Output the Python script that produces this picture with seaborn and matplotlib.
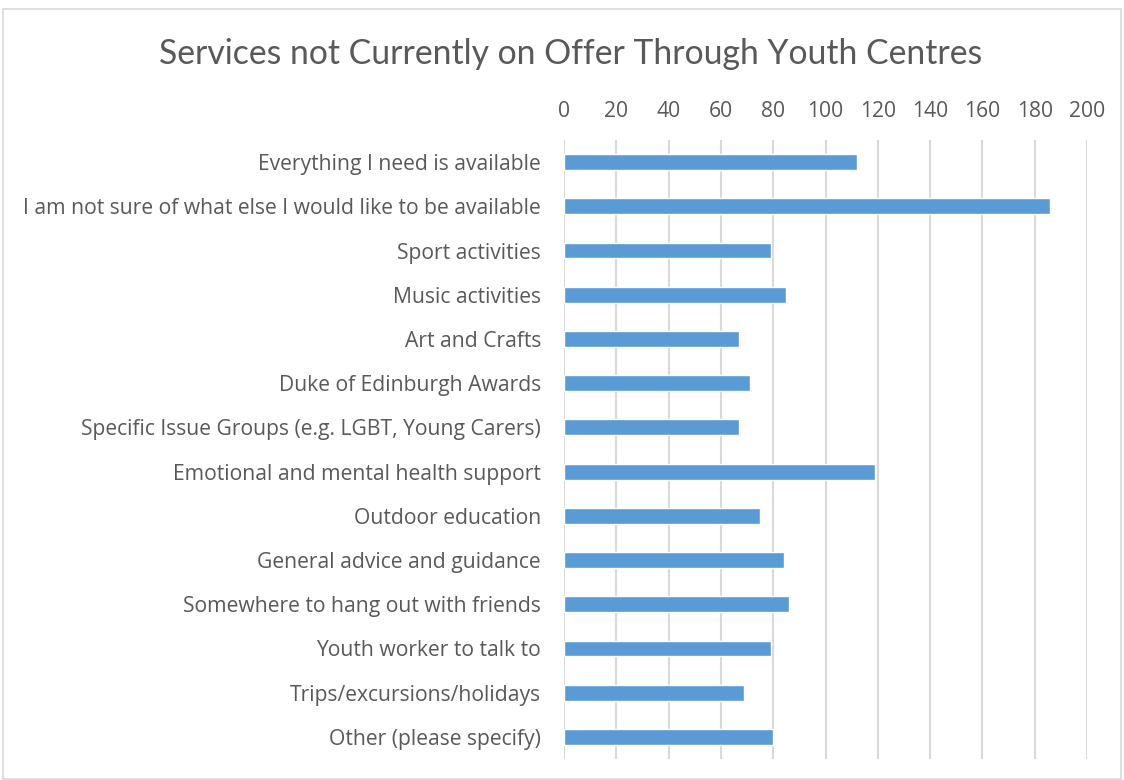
import matplotlib
matplotlib.use("Agg")
import matplotlib.pyplot as plt
from matplotlib.patches import Rectangle
import seaborn as sns
import pandas as pd

categories = [
    "Everything I need is available",
    "I am not sure of what else I would like to be available",
    "Sport activities",
    "Music activities",
    "Art and Crafts",
    "Duke of Edinburgh Awards",
    "Specific Issue Groups (e.g. LGBT, Young Carers)",
    "Emotional and mental health support",
    "Outdoor education",
    "General advice and guidance",
    "Somewhere to hang out with friends",
    "Youth worker to talk to",
    "Trips/excursions/holidays",
    "Other (please specify)",
]
counts = [112, 186, 79, 85, 67, 71, 67, 119, 75, 84, 86, 79, 69, 80]
x_ticks = [0, 20, 40, 60, 80, 100, 120, 140, 160, 180, 200]

df = pd.DataFrame({"service": categories, "count": counts})

sns.set_theme(style="white")
plt.rcParams["font.family"] = ["Open Sans", "DejaVu Sans"]

fig = plt.figure(figsize=(11.24, 7.80), dpi=100)
ax = fig.add_axes([564 / 1124, 1 - 759 / 780, (1087 - 564) / 1124, (759 - 140) / 780])

sns.barplot(data=df, x="count", y="service", orient="h", color="#5b9bd5",
            saturation=1, width=0.36, ax=ax, zorder=3)

ax.set_xlim(0, 200)
ax.set_xticks(x_ticks)
ax.xaxis.tick_top()
ax.tick_params(axis="x", length=0, pad=13, labelsize=15.2, labelcolor="#595959")
ax.tick_params(axis="y", length=0, pad=16.5, labelsize=15.2, labelcolor="#595959")
ax.grid(axis="x", color="#d9d9d9", linewidth=1.5, zorder=0)
ax.set_axisbelow(True)
for s in ax.spines.values():
    s.set_visible(False)
ax.set_xlabel("")
ax.set_ylabel("")

fig.text(571 / 1124, 1 - 54 / 780, "Services not Currently on Offer Through Youth Centres",
         ha="center", va="center", fontsize=24.3, color="#595959",
         family=["Lato", "DejaVu Sans"])

fig.patches.append(Rectangle((3 / 1124, 1 / 780), 1118 / 1124, 770 / 780,
                             transform=fig.transFigure, fill=False,
                             edgecolor="#d9d9d9", linewidth=1.2))

fig.savefig("out.png", dpi=100)
